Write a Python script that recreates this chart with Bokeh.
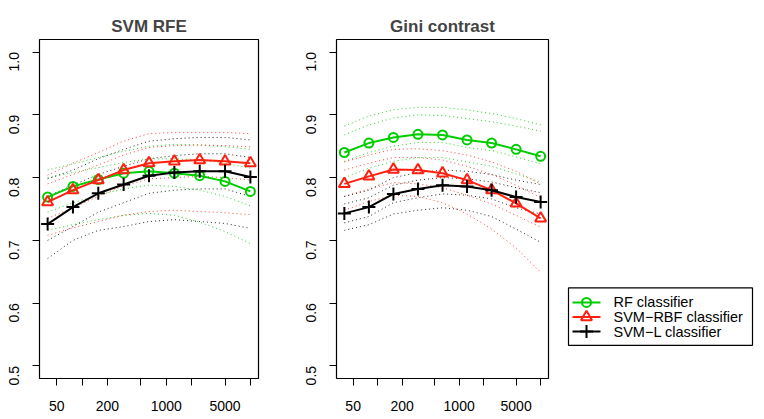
import math
from bokeh.plotting import figure
from bokeh.layouts import row
from bokeh.models import Range1d, FixedTicker, NumeralTickFormatter, PrintfTickFormatter
from bokeh.embed import file_html
from bokeh.resources import INLINE
from bokeh.core.properties import value

# ---------------- data ----------------
sizes = [39, 78, 156, 312, 625, 1250, 2500, 5000, 10000]
x_ticks = [50, 100, 200, 500, 1000, 2000, 5000, 10000]
x_tick_labels = ["50", "", "200", "", "1000", "", "5000", ""]
y_ticks = [0.5, 0.6, 0.7, 0.8, 0.9, 1.0]
titles = ["SVM RFE", "Gini contrast"]
series_names = ["RF classifier", "SVM\u2212RBF classifier", "SVM\u2212L classifier"]

# SVM RFE panel
rfe_rf_mean = [0.769, 0.786, 0.797, 0.807, 0.810, 0.807, 0.803, 0.794, 0.778]
rfe_rf_hi2 = [0.812, 0.822, 0.832, 0.842, 0.850, 0.853, 0.852, 0.849, 0.845]
rfe_rf_hi1 = [0.800, 0.808, 0.816, 0.824, 0.830, 0.830, 0.828, 0.823, 0.815]
rfe_rf_lo1 = [0.745, 0.760, 0.772, 0.782, 0.788, 0.786, 0.780, 0.770, 0.755]
rfe_rf_lo2 = [0.716, 0.725, 0.733, 0.740, 0.743, 0.740, 0.729, 0.714, 0.695]

rfe_rbf_mean = [0.761, 0.780, 0.796, 0.812, 0.823, 0.826, 0.828, 0.826, 0.823]
rfe_rbf_hi2 = [0.804, 0.823, 0.840, 0.858, 0.870, 0.872, 0.872, 0.872, 0.870]
rfe_rbf_hi1 = [0.790, 0.805, 0.820, 0.836, 0.848, 0.851, 0.852, 0.851, 0.849]
rfe_rbf_lo1 = [0.735, 0.752, 0.770, 0.787, 0.798, 0.800, 0.802, 0.800, 0.796]
rfe_rbf_lo2 = [0.708, 0.720, 0.730, 0.740, 0.746, 0.748, 0.746, 0.744, 0.741]

rfe_lin_mean = [0.726, 0.753, 0.775, 0.789, 0.803, 0.808, 0.810, 0.810, 0.801]
rfe_lin_hi2 = [0.798, 0.812, 0.830, 0.845, 0.858, 0.862, 0.864, 0.864, 0.860]
rfe_lin_hi1 = [0.770, 0.788, 0.805, 0.818, 0.830, 0.835, 0.838, 0.838, 0.832]
rfe_lin_lo1 = [0.700, 0.722, 0.745, 0.760, 0.775, 0.780, 0.782, 0.782, 0.770]
rfe_lin_lo2 = [0.671, 0.700, 0.716, 0.722, 0.730, 0.733, 0.730, 0.727, 0.719]

# Gini contrast panel
gini_rf_mean = [0.840, 0.855, 0.864, 0.869, 0.868, 0.860, 0.855, 0.845, 0.834]
gini_rf_hi2 = [0.882, 0.898, 0.908, 0.912, 0.912, 0.908, 0.902, 0.894, 0.884]
gini_rf_hi1 = [0.868, 0.884, 0.895, 0.900, 0.899, 0.894, 0.889, 0.882, 0.874]
gini_rf_lo1 = [0.826, 0.840, 0.850, 0.856, 0.856, 0.848, 0.843, 0.833, 0.822]
gini_rf_lo2 = [0.800, 0.815, 0.826, 0.832, 0.832, 0.825, 0.818, 0.806, 0.793]

gini_rbf_mean = [0.790, 0.802, 0.813, 0.812, 0.807, 0.796, 0.780, 0.759, 0.735]
gini_rbf_hi2 = [0.825, 0.836, 0.845, 0.846, 0.843, 0.836, 0.825, 0.810, 0.790]
gini_rbf_hi1 = [0.812, 0.823, 0.832, 0.832, 0.828, 0.818, 0.805, 0.788, 0.768]
gini_rbf_lo1 = [0.770, 0.782, 0.792, 0.790, 0.784, 0.772, 0.758, 0.740, 0.721]
gini_rbf_lo2 = [0.748, 0.762, 0.772, 0.770, 0.760, 0.742, 0.718, 0.688, 0.649]

gini_lin_mean = [0.743, 0.753, 0.774, 0.782, 0.788, 0.786, 0.780, 0.769, 0.761]
gini_lin_hi2 = [0.770, 0.780, 0.800, 0.808, 0.812, 0.810, 0.805, 0.796, 0.789]
gini_lin_hi1 = [0.758, 0.768, 0.788, 0.796, 0.800, 0.798, 0.793, 0.784, 0.776]
gini_lin_lo1 = [0.728, 0.738, 0.760, 0.768, 0.774, 0.772, 0.766, 0.752, 0.742]
gini_lin_lo2 = [0.716, 0.725, 0.742, 0.748, 0.752, 0.748, 0.738, 0.718, 0.697]

# ---------------- styling ----------------
FONT = "Liberation Sans"
colors = ["#00CD00", "#FF2010", "#000000"]
markers = ["circle", "triangle", "cross"]
marker_sizes = [9, 11, 13]

panels = [
    [(rfe_rf_mean, [rfe_rf_hi2, rfe_rf_hi1, rfe_rf_lo1, rfe_rf_lo2]),
     (rfe_rbf_mean, [rfe_rbf_hi2, rfe_rbf_hi1, rfe_rbf_lo1, rfe_rbf_lo2]),
     (rfe_lin_mean, [rfe_lin_hi2, rfe_lin_hi1, rfe_lin_lo1, rfe_lin_lo2])],
    [(gini_rf_mean, [gini_rf_hi2, gini_rf_hi1, gini_rf_lo1, gini_rf_lo2]),
     (gini_rbf_mean, [gini_rbf_hi2, gini_rbf_hi1, gini_rbf_lo1, gini_rbf_lo2]),
     (gini_lin_mean, [gini_lin_hi2, gini_lin_hi1, gini_lin_lo1, gini_lin_lo2])],
]

# R-like 4% range extension
lx0, lx1 = math.log10(min(sizes)), math.log10(max(sizes))
ext = 0.04 * (lx1 - lx0)
x_lo, x_hi = 10 ** (lx0 - ext), 10 ** (lx1 + ext)
y_lo = min(y_ticks) - 0.04 * (max(y_ticks) - min(y_ticks))
y_hi = max(y_ticks) + 0.04 * (max(y_ticks) - min(y_ticks))

H = 419
widths = [298, 262]
borders_left = [39, 31]
borders_right = [40, 12]


def make_panel(i):
    p = figure(width=widths[i], height=H, x_axis_type="log",
               x_range=Range1d(x_lo, x_hi), y_range=Range1d(y_lo, y_hi),
               output_backend="svg", toolbar_location=None,
               min_border_left=borders_left[i], min_border_right=borders_right[i],
               min_border_top=39, min_border_bottom=41,
               outline_line_color="black", outline_line_width=1.2,
               background_fill_color="white", border_fill_color="white")
    p.title.text = titles[i]
    p.title.align = "center"
    p.title.vertical_align = "top"
    p.title.text_font = FONT
    p.title.text_font_size = "17px"
    p.title.text_font_style = "bold"
    p.title.standoff = 4
    p.grid.visible = False
    for ax in (p.xaxis[0], p.yaxis[0]):
        ax.axis_line_color = None
        ax.major_tick_out = 7
        ax.major_tick_in = 0
        ax.minor_tick_line_color = None
        ax.major_tick_line_color = "black"
        ax.major_label_text_font = FONT
        ax.major_label_text_font_size = "14px"
        ax.major_label_text_color = "black"
    p.xaxis[0].ticker = FixedTicker(ticks=x_ticks, minor_ticks=[])
    p.xaxis[0].formatter = NumeralTickFormatter(format="0")
    p.xaxis[0].major_label_overrides = {t: l for t, l in zip(x_ticks, x_tick_labels) if l == ""}
    p.xaxis[0].major_label_standoff = 15
    p.yaxis[0].ticker = FixedTicker(ticks=y_ticks, minor_ticks=[])
    p.yaxis[0].formatter = PrintfTickFormatter(format="%.1f")
    p.yaxis[0].major_label_orientation = math.pi / 2
    p.yaxis[0].major_label_standoff = 18

    for k, (mean, bands) in enumerate(panels[i]):
        for b in bands:
            p.line(sizes, b, line_color=colors[k], line_width=1, line_dash="1 3", line_alpha=0.85)
    for k, (mean, bands) in enumerate(panels[i]):
        p.line(sizes, mean, line_color=colors[k], line_width=2)
        p.scatter(sizes, mean, marker=markers[k], size=marker_sizes[k],
                  fill_color=None, line_color=colors[k], line_width=2)
    return p


p1 = make_panel(0)
p2 = make_panel(1)

# legend panel (screen-pixel coordinates, y measured from the top)
p3 = figure(width=204, height=H, x_range=Range1d(0, 204), y_range=Range1d(H, 0),
            x_axis_type=None, y_axis_type=None, output_backend="svg",
            toolbar_location=None, min_border=0, outline_line_color=None)
p3.grid.visible = False
p3.quad(left=[8], right=[192], top=[307], bottom=[378], fill_color=None,
        line_color="black", line_width=1.2)
row_y = [325, 343, 361]
for k in range(3):
    p3.segment(x0=[12], y0=[row_y[k]], x1=[40], y1=[row_y[k]], line_color=colors[k], line_width=2)
    p3.scatter([26], [row_y[k]], marker=markers[k], size=marker_sizes[k],
               fill_color=None, line_color=colors[k], line_width=2)
    p3.text([53], [row_y[k]], text=[series_names[k]], text_font=value(FONT),
            text_font_size="14.5px", text_baseline="middle", text_color="black")

layout = row(p1, p2, p3, spacing=0)
open("out.html", "w").write(file_html(layout, INLINE))
